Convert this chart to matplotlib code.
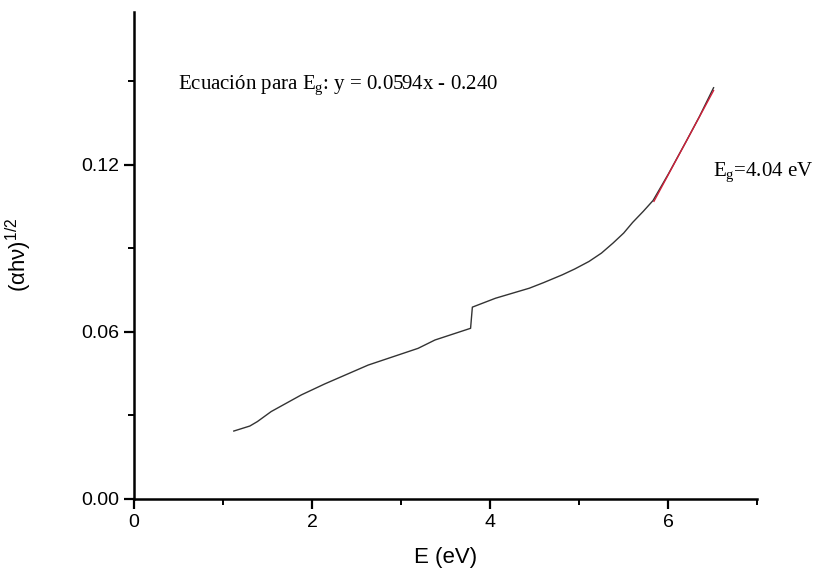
import numpy as np
import matplotlib
matplotlib.use('Agg')
import matplotlib.pyplot as plt
from matplotlib.ticker import MultipleLocator

# --- datos ---
E = [1.12, 1.30, 1.385, 1.54, 1.88, 2.14, 2.63, 3.19, 3.38, 3.78, 3.80,
     4.06, 4.44, 4.60, 4.81, 4.95, 5.11, 5.25, 5.38, 5.50, 5.60, 5.72, 5.83,
     6.00, 6.21, 6.35, 6.51]
ahv = [0.0244, 0.0262, 0.0278, 0.0314, 0.0374, 0.0413, 0.0481, 0.0541, 0.0571, 0.0613, 0.0689,
       0.0721, 0.0757, 0.0777, 0.0805, 0.0826, 0.0853, 0.0883, 0.0919, 0.0955, 0.0993, 0.1033, 0.1072,
       0.1166, 0.1289, 0.1373, 0.1477]

# ajuste lineal para Eg
pendiente = 0.0594
ordenada = -0.240
fit_x = [5.84, 6.51]

plt.rcParams['font.family'] = ['Liberation Sans', 'DejaVu Sans']
plt.rcParams['mathtext.default'] = 'regular'

fig = plt.figure(figsize=(8.33, 5.86), dpi=100)
ax = fig.add_axes([0.161, 0.1485, 0.748, 0.8315])

ax.plot(E, ahv, color='#333333', lw=1.0)
fx = np.array(fit_x)
ax.plot(fx, pendiente * fx + ordenada, color='#d0203a', lw=1.0)

ax.set_xlim(0, 7)
ax.set_ylim(0, 0.175)
ax.xaxis.set_major_locator(MultipleLocator(2))
ax.xaxis.set_minor_locator(MultipleLocator(1))
ax.yaxis.set_major_locator(MultipleLocator(0.06))
ax.yaxis.set_minor_locator(MultipleLocator(0.03))
ax.yaxis.set_major_formatter(plt.FuncFormatter(lambda v, p: f'{v:.2f}'))

for s in ['top', 'right']:
    ax.spines[s].set_visible(False)
for s in ['left', 'bottom']:
    ax.spines[s].set_linewidth(1.8)
ax.tick_params(which='major', direction='out', length=7, width=1.6, labelsize=14)
ax.tick_params(which='minor', direction='out', length=4, width=1.4)

ax.set_xlabel('E (eV)', fontsize=16, labelpad=12)
ax.set_ylabel(r'(αhν)$^{1/2}$', fontsize=16, labelpad=34)

fig.text(178 / 833, 1 - 85 / 586, r'Ecuación para E$_g$: y = 0.0594x - 0.240',
         family='Liberation Serif', fontsize=15, va='center', ha='left')
fig.text(713 / 833, 1 - 172 / 586, r'E$_g$=4.04 eV',
         family='Liberation Serif', fontsize=15, va='center', ha='left')

fig.savefig('out.png', dpi=100)
